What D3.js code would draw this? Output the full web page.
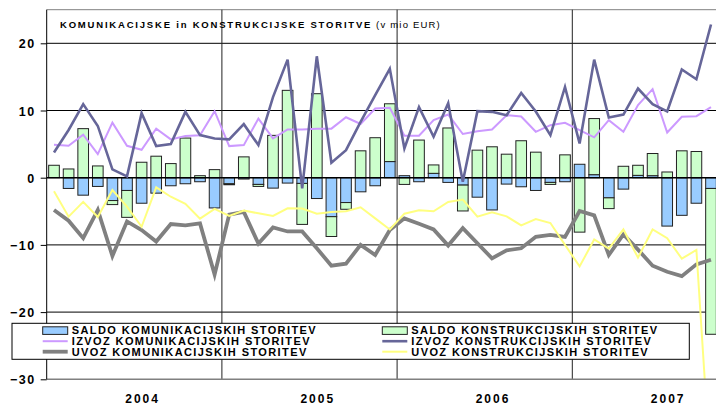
<!DOCTYPE html>
<html lang="sl">
<head>
<meta charset="utf-8">
<title>Komunikacijske in konstrukcijske storitve</title>
<script src="https://d3js.org/d3.v7.min.js"></script>
<style>
  body { margin: 0; background: #fff; }
  svg text { font-family: "Liberation Sans", Arial, sans-serif; }
</style>
</head>
<body>
<script>
// categories: monthly, Jan 2004 - Oct 2007
const years = ["2004", "2005", "2006", "2007"];
const monthsInYear = [12, 12, 12, 10];
const yTicks = [20, 10, 0, -10, -20, -30];

// v mio EUR
const saldoKom = [0, -1.6, -2.6, -1.3, -3.4, -1.9, -3.8, -2.3, -1.2, -0.9, -0.6, -4.5,
                  -0.9, -0.2, -1.0, -1.55, -0.8, -0.85, -3.1, -5.8, -3.7, -2.1, -1.2, 2.4,
                  0.3, -0.6, 0.65, -0.7, -1.1, -2.9, -4.8, -0.95, -1.35, -1.9, -0.7, -0.6,
                  2.0, 0.45, -3.0, -1.7, 0.35, 0.3, -7.2, -5.6, -3.8, -1.6];
const saldoKon = [1.85, 1.3, 7.3, 1.75, -0.6, -4.0, 2.3, 3.2, 2.1, 5.9, 0.3, 1.2,
                  -0.15, 3.1, -0.3, 6.3, 13.0, -6.1, 12.5, -2.95, -1.0, 4.0, 5.95, 8.6,
                  -1.0, 5.6, 1.25, 7.4, -3.85, 4.1, 4.6, 3.5, 5.5, 3.8, -0.3, 3.4,
                  -8.1, 8.35, -1.6, 1.7, 1.5, 3.3, 0.85, 4.0, 3.9, -21.7];
const izvozKom = [4.9, 4.75, 6.4, 3.5, 8.2, 4.75, 4.15, 7.3, 5.7, 6.2, 6.3, 9.9,
                  4.7, 4.85, 8.8, 5.84, 7.18, 7.18, 7.3, 7.3, 9.0, 8.0, 10.3, 10.4,
                  6.24, 6.24, 8.56, 9.4, 6.5, 6.9, 7.18, 9.3, 9.1, 6.83, 7.82, 8.17,
                  7.08, 6.0, 8.56, 6.83, 10.8, 13.17, 6.73, 9.06, 9.16, 10.5];
const izvozKon = [3.76, 7.1, 10.95, 7.7, 1.24, 0.2, 9.6, 4.7, 5.0, 9.8, 6.34, 5.84,
                  5.7, 7.97, 4.85, 12.0, 17.57, -1.58, 18.07, 2.23, 4.1, 8.3, 12.3, 16.2,
                  4.36, 10.5, 6.1, 11.1, -0.6, 9.9, 9.8, 9.3, 12.6, 9.85, 6.34, 13.5,
                  5.1, 17.57, 8.96, 9.4, 13.27, 10.94, 9.85, 16.1, 14.65, 22.8];
const uvozKom = [-4.8, -6.4, -9.0, -4.8, -11.65, -6.5, -7.8, -9.5, -6.9, -7.1, -6.8, -14.4,
                 -5.5, -5.1, -9.8, -7.4, -8.0, -8.0, -10.5, -13.1, -12.8, -10.0, -11.5, -7.8,
                 -6.05, -6.85, -7.7, -10.1, -7.5, -9.75, -12.0, -10.8, -10.5, -8.8, -8.5, -8.8,
                 -4.95, -5.6, -11.5, -8.45, -10.7, -13.1, -14.0, -14.65, -12.9, -12.2];
const uvozKon = [-2.0, -5.8, -3.6, -5.85, -1.83, -4.3, -7.3, -1.43, -2.83, -3.9, -6.1, -4.65,
                 -5.7, -4.9, -5.3, -5.7, -4.56, -4.6, -5.35, -5.1, -5.0, -4.4, -6.05, -7.7,
                 -5.35, -4.85, -5.0, -3.6, -3.25, -5.8, -5.15, -5.75, -7.1, -6.15, -6.75, -10.0,
                 -13.2, -9.2, -10.55, -7.7, -11.9, -7.7, -9.0, -12.05, -10.75, -44.5];

const months = [];
years.forEach((y, i) => {
  for (let m = 1; m <= monthsInYear[i]; m++) months.push(y + "-" + m);
});

const w = 716, h = 405;
const plotLeft = 46.7, plotTop = 9.7, plotBottom = 379.3;
const step = 14.6;
const plotRight = plotLeft + months.length * step;

const svg = d3.select("body").append("svg")
  .attr("width", w)
  .attr("height", h);

svg.append("rect").attr("width", w).attr("height", h).attr("fill", "white");

const x = d3.scaleBand()
  .domain(months)
  .range([plotLeft, plotRight])
  .paddingInner(0.27)
  .paddingOuter(0.135);
const xm = d3.scaleLinear().domain([0, months.length]).range([plotLeft, plotRight]);
const y = d3.scaleLinear().domain([-30, 25]).range([plotBottom, plotTop]);
const cx = d => x(d) + x.bandwidth() / 2;

svg.append("defs").append("clipPath").attr("id", "plotclip")
  .append("rect")
  .attr("x", plotLeft).attr("y", plotTop)
  .attr("width", plotRight - plotLeft).attr("height", plotBottom - plotTop);

// plot border (top) and gridlines
svg.append("line")
  .attr("x1", plotLeft).attr("x2", w).attr("y1", plotTop).attr("y2", plotTop)
  .attr("stroke", "#808080").attr("stroke-width", 1);

svg.append("g").selectAll("line")
  .data(yTicks.filter(t => t !== 0 && t !== -30))
  .join("line")
  .attr("x1", plotLeft).attr("x2", plotRight)
  .attr("y1", d => y(d)).attr("y2", d => y(d))
  .attr("stroke", "#000").attr("stroke-width", 1);

// year separators
let cum = 0;
const bounds = [];
monthsInYear.slice(0, -1).forEach(n => { cum += n; bounds.push(cum); });
svg.append("g").selectAll("line")
  .data(bounds)
  .join("line")
  .attr("x1", d => xm(d)).attr("x2", d => xm(d))
  .attr("y1", plotTop).attr("y2", plotBottom)
  .attr("stroke", "#222").attr("stroke-width", 1);

// stacked bars
const rows = months.map((m, i) => ({ month: m, kom: saldoKom[i], kon: saldoKon[i] }));
const stack = d3.stack().keys(["kom", "kon"]).offset(d3.stackOffsetDiverging)(rows);
const barFill = { kom: "#99CCFF", kon: "#CCFFCC" };

svg.append("g").attr("clip-path", "url(#plotclip)")
  .selectAll("g")
  .data(stack)
  .join("g")
  .attr("fill", d => barFill[d.key])
  .attr("stroke", "#222")
  .attr("stroke-width", 1)
  .selectAll("rect")
  .data(d => d)
  .join("rect")
  .attr("x", d => x(d.data.month))
  .attr("width", x.bandwidth())
  .attr("y", d => y(d[1]))
  .attr("height", d => Math.abs(y(d[0]) - y(d[1])));

// zero line
svg.append("line")
  .attr("x1", plotLeft).attr("x2", plotRight).attr("y1", y(0)).attr("y2", y(0))
  .attr("stroke", "#000").attr("stroke-width", 1.5);

// lines
const lineSeries = [
  { values: izvozKom, color: "#CC99FF", width: 2 },
  { values: izvozKon, color: "#666699", width: 2.6 },
  { values: uvozKom, color: "#808080", width: 3.8 },
  { values: uvozKon, color: "#FFFF80", width: 2 }
];
const line = d3.line().x((d, i) => cx(months[i])).y(d => y(d));

svg.append("g").attr("clip-path", "url(#plotclip)")
  .selectAll("path")
  .data(lineSeries)
  .join("path")
  .attr("d", d => line(d.values))
  .attr("fill", "none")
  .attr("stroke", d => d.color)
  .attr("stroke-width", d => d.width)
  .attr("stroke-linejoin", "miter");

// axes
svg.append("line")
  .attr("x1", plotLeft).attr("x2", w).attr("y1", plotBottom).attr("y2", plotBottom)
  .attr("stroke", "#808080").attr("stroke-width", 1.5);

const yAxis = d3.axisLeft(y).tickValues(yTicks).tickSize(6).tickFormat(d3.format("d"));
const gy = svg.append("g")
  .attr("transform", `translate(${plotLeft},0)`)
  .call(yAxis);
gy.select(".domain").attr("stroke", "#000").attr("d", `M-0,${plotTop}V${plotBottom}`);
gy.selectAll(".tick line").attr("stroke", "#000");
gy.selectAll(".tick text")
  .attr("x", -11)
  .attr("dy", "0.36em")
  .attr("font-size", "12.5px")
  .attr("font-weight", "bold")
  .attr("letter-spacing", "1.5px")
  .attr("fill", "#000")
  .style("font-family", "'Liberation Sans', Arial, sans-serif");

// year labels, under the July category of each year
svg.append("g").selectAll("text")
  .data(years)
  .join("text")
  .attr("x", (d, i) => xm(i * 12 + 6.5) + 1)
  .attr("y", 402.5)
  .attr("text-anchor", "middle")
  .attr("font-size", "12px")
  .attr("font-weight", "bold")
  .attr("letter-spacing", "2px")
  .text(d => d);

// title
const title = svg.append("text")
  .attr("x", 60).attr("y", 28.3)
  .attr("font-size", "9.5px");
title.append("tspan")
  .attr("font-weight", "bold")
  .attr("letter-spacing", "1.8px")
  .text("KOMUNIKACIJSKE in KONSTRUKCIJSKE STORITVE");
title.append("tspan")
  .attr("letter-spacing", "1.2px")
  .text(" (v mio EUR)");

// legend
const legend = svg.append("g");
legend.append("rect")
  .attr("x", 12).attr("y", 323.3)
  .attr("width", 677.3).attr("height", 36)
  .attr("fill", "white").attr("stroke", "#000").attr("stroke-width", 1);

const legendItems = [
  { label: "SALDO KOMUNIKACIJSKIH STORITEV", type: "bar", color: "#99CCFF", col: 0, row: 0 },
  { label: "SALDO KONSTRUKCIJSKIH STORITEV", type: "bar", color: "#CCFFCC", col: 1, row: 0 },
  { label: "IZVOZ KOMUNIKACIJSKIH STORITEV", type: "line", color: "#CC99FF", width: 2, col: 0, row: 1 },
  { label: "IZVOZ KONSTRUKCIJSKIH STORITEV", type: "line", color: "#666699", width: 2.6, col: 1, row: 1 },
  { label: "UVOZ KOMUNIKACIJSKIH STORITEV", type: "line", color: "#808080", width: 3.8, col: 0, row: 2 },
  { label: "UVOZ KONSTRUKCIJSKIH STORITEV", type: "line", color: "#FFFF80", width: 2, col: 1, row: 2 }
];
const colX = [42.7, 382.3];
const rowY = [330.6, 341.2, 351.7];

const li = legend.selectAll("g.item")
  .data(legendItems)
  .join("g")
  .attr("class", "item")
  .attr("transform", d => `translate(${colX[d.col]},${rowY[d.row]})`);

li.filter(d => d.type === "bar").append("rect")
  .attr("x", 0).attr("y", -3.8)
  .attr("width", 25).attr("height", 7.6)
  .attr("fill", d => d.color)
  .attr("stroke", "#222").attr("stroke-width", 1);

li.filter(d => d.type === "line").append("line")
  .attr("x1", 0).attr("x2", 25).attr("y1", 0).attr("y2", 0)
  .attr("stroke", d => d.color)
  .attr("stroke-width", d => d.width);

li.append("text")
  .attr("x", 29)
  .attr("y", 3.8)
  .attr("font-size", "11px")
  .attr("font-weight", "bold")
  .attr("letter-spacing", "1.4px")
  .text(d => d.label);
</script>
</body>
</html>
